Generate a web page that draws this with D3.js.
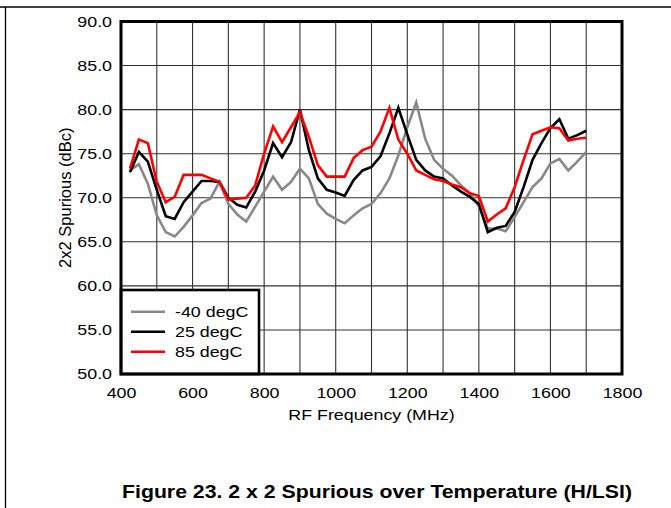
<!DOCTYPE html>
<html>
<head>
<meta charset="utf-8">
<script src="https://cdn.jsdelivr.net/npm/d3@7"></script>
<style>
  body { margin: 0; background: #fff; }
  text { font-family: "Liberation Sans", Arial, sans-serif; fill: #000; }
</style>
</head>
<body>
<script>
// frequency points (MHz)
var freqs = [425,450,475,500,525,550,575,600,625,650,675,700,725,750,775,800,825,850,875,900,
             925,950,975,1000,1025,1050,1075,1100,1125,1150,1175,1200,1225,1250,1275,1300,1325,1350,1375,1400,
             1425,1450,1475,1500,1525,1550,1575,1600,1625,1650,1675,1700];

var spurM40 = [73.1,73.8,71.6,68.0,66.1,65.6,66.7,68.0,69.4,69.9,71.8,69.3,68.1,67.3,69.0,70.7,72.4,70.9,71.8,73.3,
               72.2,69.3,68.2,67.6,67.1,68.0,68.8,69.3,70.5,72.2,74.8,78.0,80.8,76.7,74.3,73.3,72.5,71.4,70.5,69.0,
               66.5,66.5,66.2,67.8,69.5,71.2,72.2,73.9,74.4,73.1,74.1,75.2];

var spur25 = [72.9,75.2,74.1,70.9,67.9,67.6,69.5,70.7,71.9,71.9,71.8,70.0,69.2,68.9,70.7,73.1,76.2,74.6,76.3,80.0,
              75.4,72.2,70.9,70.6,70.2,72.0,73.1,73.5,74.7,77.3,80.2,77.2,74.3,73.1,72.4,72.2,71.4,70.7,70.1,69.3,
              66.1,66.6,66.8,68.4,71.2,74.3,76.2,77.9,78.9,76.7,77.1,77.6];

var spur85 = [73.3,76.6,76.2,71.8,69.5,70.1,72.6,72.6,72.6,72.2,71.8,69.8,69.9,70.0,71.4,75.0,78.1,76.3,78.0,79.7,
              76.9,73.7,72.4,72.4,72.4,74.5,75.4,75.8,77.5,80.2,76.6,75.0,73.1,72.6,72.1,71.9,71.5,71.2,70.5,70.2,
              67.3,68.1,68.8,71.2,74.3,77.2,77.6,78.0,77.9,76.5,76.7,76.8];

var seriesNames = ["-40 degC", "25 degC", "85 degC"];
var seriesColors = ["#888888", "#000000", "#ff0000"];
var seriesValues = [spurM40, spur25, spur85];

var xTicks = [400,600,800,1000,1200,1400,1600,1800];
var yTicks = [50,55,60,65,70,75,80,85,90];

var W = 671, H = 508;
var pL = 121, pR = 622, pT = 21.5, pB = 374;
var stretch = 1.15;

var svg = d3.select("body").append("svg").attr("width", W).attr("height", H);

// page frame lines
svg.append("line").attr("x1",0).attr("x2",W).attr("y1",7).attr("y2",7).attr("stroke","#000").attr("stroke-width",1.3);
svg.append("line").attr("x1",5.5).attr("x2",5.5).attr("y1",7).attr("y2",H).attr("stroke","#000").attr("stroke-width",1.3);

var x = d3.scaleLinear().domain([400,1800]).range([pL,pR]);
var y = d3.scaleLinear().domain([50,90]).range([pB,pT]);

// grid
var grid = svg.append("g");
grid.selectAll("line.v").data(d3.range(500,1800,100)).enter().append("line")
  .attr("x1",function(d){return x(d);}).attr("x2",function(d){return x(d);})
  .attr("y1",pT).attr("y2",pB).attr("stroke","#333").attr("stroke-width",1.1);
grid.selectAll("line.h").data(yTicks.slice(1,-1)).enter().append("line")
  .attr("y1",function(d){return y(d);}).attr("y2",function(d){return y(d);})
  .attr("x1",pL).attr("x2",pR).attr("stroke","#333").attr("stroke-width",1.1);

// series
var line = d3.line()
  .x(function(d,i){return x(freqs[i]);})
  .y(function(d){return y(d);});

for (var s=0; s<3; s++) {
  svg.append("path")
    .attr("fill","none")
    .attr("stroke",seriesColors[s])
    .attr("stroke-width",2.6)
    .attr("stroke-linejoin","miter")
    .attr("d", line(seriesValues[s]));
}

// axes
var yAxis = d3.axisLeft(y).tickValues(yTicks).tickSize(0).tickPadding(9).tickFormat(d3.format(".1f"));
var xAxis = d3.axisBottom(x).tickValues(xTicks).tickSize(0).tickPadding(13).tickFormat(d3.format("d"));
var gy = svg.append("g").attr("transform","translate("+pL+",0)").call(yAxis);
var gx = svg.append("g").attr("transform","translate(0,"+pB+")").call(xAxis);
[gy,gx].forEach(function(g){
  g.select(".domain").remove();
  g.selectAll("text").attr("font-size",15.5).attr("class","wide")
    .style("font-family","Liberation Sans, Arial, sans-serif");
});

// legend
var lg = svg.append("g");
lg.append("rect").attr("x",121).attr("y",290).attr("width",138).attr("height",84)
  .attr("fill","#fff").attr("stroke","#000").attr("stroke-width",2.6);
seriesNames.forEach(function(n,i){
  var ly = 311.7 + i*20;
  lg.append("line").attr("x1",131).attr("x2",165).attr("y1",ly).attr("y2",ly)
    .attr("stroke",seriesColors[i]).attr("stroke-width",2.6);
  lg.append("text").attr("x",175).attr("y",ly+5.5).attr("font-size",15.5).attr("class","wide").text(n);
});

// plot frame
svg.append("rect").attr("x",pL).attr("y",pT).attr("width",pR-pL).attr("height",pB-pT)
  .attr("fill","none").attr("stroke","#000").attr("stroke-width",3);

// titles
svg.append("text").attr("x",(pL+pR)/2).attr("y",420).attr("text-anchor","middle")
  .attr("font-size",15.5).attr("class","wide").text("RF Frequency (MHz)");
svg.append("text").attr("transform","translate(71,"+((pT+pB)/2)+") rotate(-90)")
  .attr("text-anchor","middle").attr("font-size",16.5).text("2x2 Spurious (dBc)");
svg.append("text").attr("x",377).attr("y",498).attr("text-anchor","middle")
  .attr("font-size",17.5).attr("font-weight","bold")
  .attr("textLength",510).attr("lengthAdjust","spacingAndGlyphs")
  .text("Figure 23. 2 x 2 Spurious over Temperature (H/LSI)");

// the source picture is a bit wider than tall, so widen horizontal text
svg.selectAll("text.wide").each(function(){
  var len = this.getComputedTextLength();
  d3.select(this).attr("textLength", len*stretch).attr("lengthAdjust","spacingAndGlyphs");
});
</script>
</body>
</html>
